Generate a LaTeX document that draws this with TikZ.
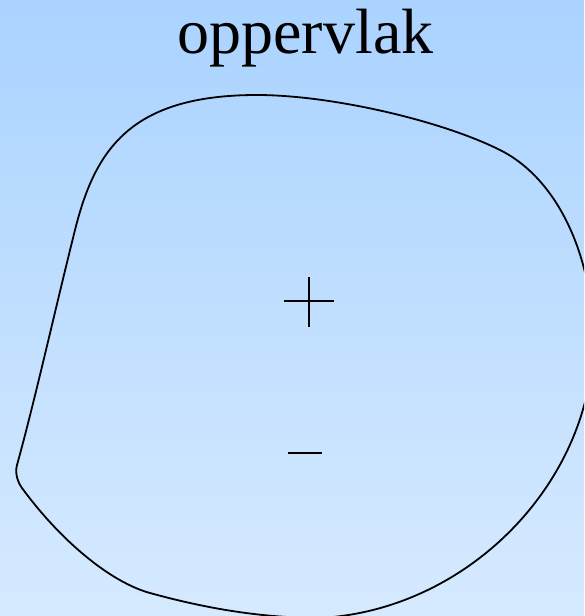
\documentclass[tikz,border=0pt]{standalone}
\usepackage{fontspec}
\setmainfont{Liberation Serif}
\definecolor{bgtop}{RGB}{170,211,255}
\definecolor{bgbot}{RGB}{214,234,255}
\tikzset{
  outline/.style={draw=black, line width=1.8pt, line join=round},
  signline/.style={draw=black, line width=1.5pt},
  titletext/.style={font=\fontsize{64}{70}\selectfont, inner sep=0pt, anchor=base}
}
\begin{document}
\begin{tikzpicture}[x=1pt,y=-1pt]
  \useasboundingbox (0,0) rectangle (584,616);
  \shade[top color=bgtop, bottom color=bgbot] (0,0) rectangle (584,616);
  \clip (0,0) rectangle (584,616);
  \node[titletext] (title) at (305.5,53) {oppervlak};
  \draw[outline]
    (17,465) .. controls (35,400) and (55,310) .. (75,230)
    .. controls (95,150) and (130,95) .. (257,95)
    .. controls (330,95) and (440,120) .. (500,150)
    .. controls (560,180) and (593,260) .. (593,340)
    .. controls (593,480) and (470,610) .. (320,618)
    .. controls (250,618) and (190,604) .. (150,593)
    .. controls (110,582) and (60,540) .. (22,488)
    .. controls (17.3,481.5) and (14.9,472.7) .. cycle;
  \coordinate (plusT) at (309,277);
  \coordinate (plusB) at (309,327);
  \coordinate (plusL) at (284,301);
  \coordinate (plusR) at (334,301);
  \coordinate (minL) at (288,453);
  \coordinate (minR) at (322,453);
  \draw[signline] (plusT) -- (plusB);
  \draw[signline] (plusL) -- (plusR);
  \draw[signline] (minL) -- (minR);
\end{tikzpicture}
\end{document}
